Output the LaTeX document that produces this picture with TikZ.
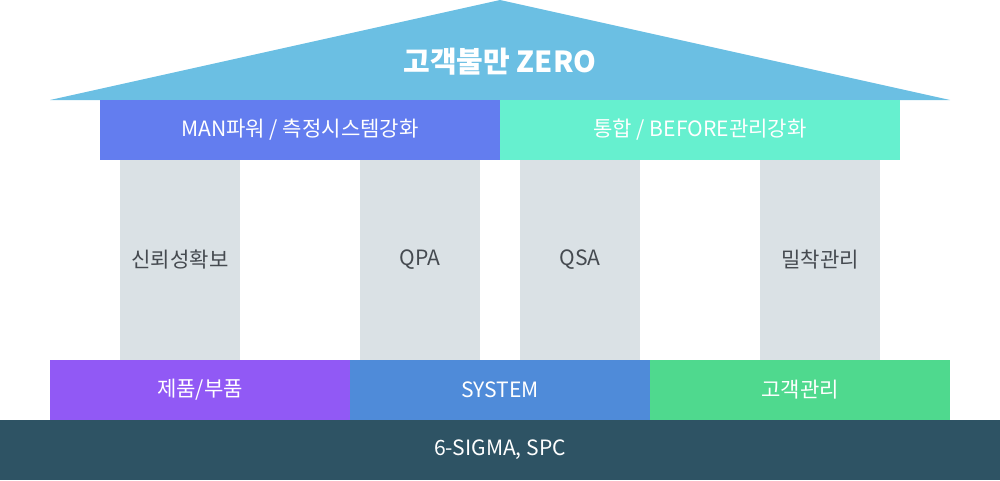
\documentclass[tikz,border=0pt]{standalone}
\usepackage{fontspec}
\setmainfont{Noto Sans CJK KR}
\usepackage{xcolor}
\usetikzlibrary{positioning}
\definecolor{roofblue}{HTML}{6BBFE3}
\definecolor{beamblue}{HTML}{637DEF}
\definecolor{beammint}{HTML}{66F0CF}
\definecolor{pillargray}{HTML}{DAE1E5}
\definecolor{basepurple}{HTML}{9159F5}
\definecolor{baseblue}{HTML}{4F8BD9}
\definecolor{basegreen}{HTML}{4FD98E}
\definecolor{footdark}{HTML}{2E5364}
\definecolor{pillartext}{HTML}{454A50}
\tikzset{
  block/.style={rectangle, draw=none, inner sep=0pt, text=white, font=\fontsize{12}{14}\selectfont},
  beam/.style={block, minimum width=8cm, minimum height=1.2cm},
  pillar/.style={block, fill=pillargray, text=pillartext, minimum width=2.4cm, minimum height=4cm},
  ground/.style={block, minimum width=6cm, minimum height=1.2cm}
}

\begin{document}
\begin{tikzpicture}[x=0.02cm,y=-0.02cm]
      \useasboundingbox (0,0) rectangle (1000,480);
      % roof
      \fill[roofblue] (500,0) -- (950,100) -- (50,100) -- cycle;
      \node[block, font=\fontsize{16.5}{18}\selectfont\bfseries] (roof) at (500,62) {고객불만 ZERO};

      % pillars
      \node[pillar](p1) at (180,260){신뢰성확보};
      \node[pillar](p2) at (420,260){QPA};
      \node[pillar](p3) at (580,260){QSA};
      \node[pillar](p4) at (820,260){밀착관리};

      % beams
      \node[beam, fill=beamblue](b1) at (300,130){MAN파워 / 측정시스템강화};
      \node[beam, fill=beammint](b2) at (700,130){통합 / BEFORE관리강화};

      % base
      \node[ground, fill=basepurple](g1) at (200,390){제품/부품};
      \node[ground, fill=baseblue](g2) at (500,390){SYSTEM};
      \node[ground, fill=basegreen](g3) at (800,390){고객관리};
      \node[block, fill=footdark, minimum width=20cm, minimum height=1.2cm](foot) at (500,450){6-SIGMA, SPC};
    \end{tikzpicture}
\end{document}
